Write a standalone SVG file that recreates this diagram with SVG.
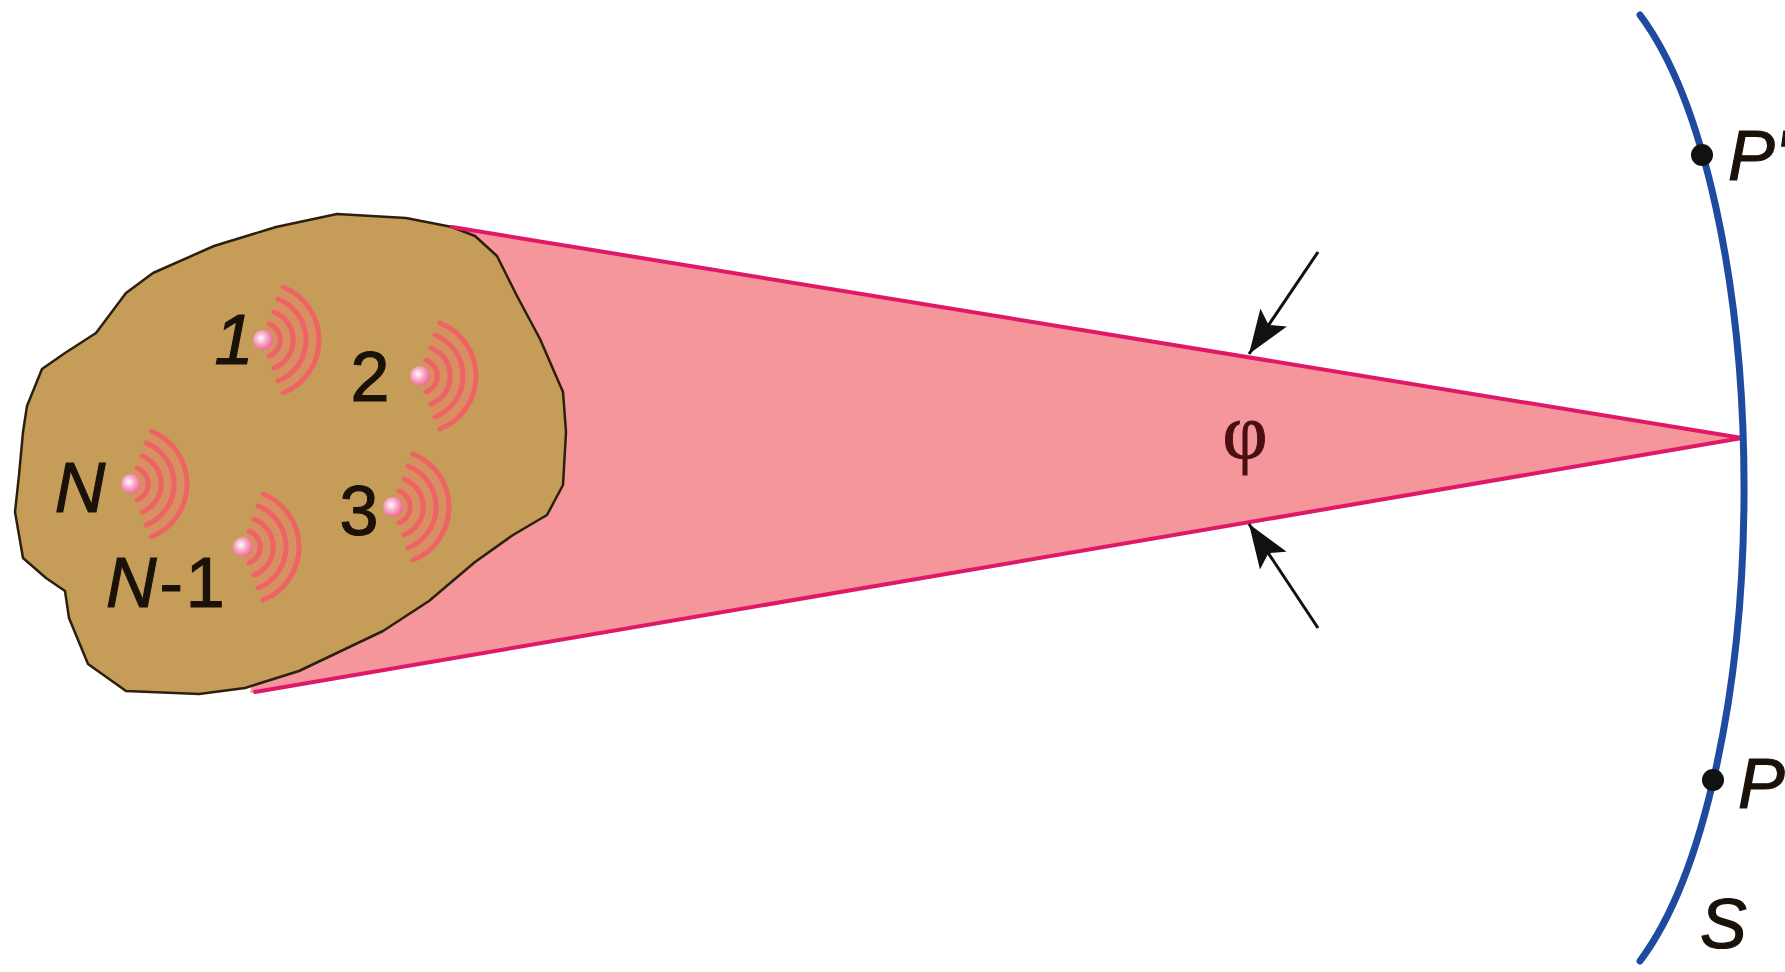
<svg xmlns="http://www.w3.org/2000/svg" xmlns:xlink="http://www.w3.org/1999/xlink" width="1785" height="972" viewBox="0 0 1785 972">
<style>
.lbl{font-family:"Liberation Sans",Arial,sans-serif;font-size:70px;fill:#1a1208;stroke:#1a1208;stroke-width:1.2}
.it{font-style:italic}
.edge{stroke:#E0186A;stroke-width:4;fill:none;stroke-linecap:round}
.wave{fill:none;stroke:#EE6464;stroke-width:5;stroke-linecap:round}
.ptr{stroke:#111;stroke-width:3;fill:none}
</style>
<defs>
<marker id="ah" viewBox="0 0 44 32" refX="44" refY="16" markerWidth="44" markerHeight="32" markerUnits="userSpaceOnUse" orient="auto">
<path d="M0,0 L44,16 L0,32 L9,16 Z" fill="#111"/>
</marker>
<radialGradient id="dotg" cx="0.4" cy="0.4" r="0.6">
<stop offset="0" stop-color="#ffffff"/>
<stop offset="0.5" stop-color="#F8A8C8"/>
<stop offset="1" stop-color="#EE6A96"/>
</radialGradient>
<g id="src">
<path d="M0,0 L20,-53 A57,57 0 0 1 20,53 Z" fill="#EE8070" opacity="0.45"/>
<path class="wave" d="M6,-16 A17,17 0 0 1 6,16"/>
<path class="wave" d="M11,-28 A30,30 0 0 1 11,28"/>
<path class="wave" d="M15,-41 A44,44 0 0 1 15,41"/>
<path class="wave" d="M20,-53 A57,57 0 0 1 20,53"/>
<circle r="10" fill="url(#dotg)"/>
</g>
</defs>
<rect width="1785" height="972" fill="#ffffff"/>

<g id="wedge">
<polygon points="452,227 1742,438 250,693 300,450" fill="#F5969A"/>
</g>

<g id="body">
<polygon points="452,227 406,218 337,214 276,227 214,246 153,273 126,293 96,333 65,353 42,369 27,406 23,432 19,475 15,512 23,558 46,578 65,591 69,618 88,664 126,691 199,694 245,688 299,671 383,631 429,601 475,562 513,535 547,515 563,485 566,432 563,392 540,339 517,296 497,256 475,236" fill="#C69D58" stroke="#2b2010" stroke-width="2.5" stroke-linejoin="round"/>
</g>

<g id="connectors">
<line class="edge" x1="452" y1="227" x2="1742" y2="438"/>
<line class="edge" x1="255" y1="692" x2="1742" y2="438"/>
<line class="ptr" x1="1318" y1="252" x2="1249" y2="354" marker-end="url(#ah)"/>
<line class="ptr" x1="1318" y1="628" x2="1249" y2="524" marker-end="url(#ah)"/>
</g>

<g id="source-1"><use xlink:href="#src" x="263" y="340"/><text class="lbl it" x="234" y="364" text-anchor="middle">1</text></g>
<g id="source-2"><use xlink:href="#src" x="420" y="376"/><text class="lbl" x="370" y="401" text-anchor="middle">2</text></g>
<g id="source-3"><use xlink:href="#src" x="393" y="507"/><text class="lbl" x="359" y="535" text-anchor="middle">3</text></g>
<g id="source-N"><use xlink:href="#src" x="131" y="484"/><text class="lbl it" x="80" y="512" text-anchor="middle">N</text></g>
<g id="source-N-1"><use xlink:href="#src" x="243" y="547"/><text class="lbl" x="106" y="607" letter-spacing="3"><tspan class="it">N</tspan>-1</text></g>

<g id="angle-label">
<text x="1245" y="458" text-anchor="middle" font-family="'Liberation Serif','DejaVu Serif',serif" font-size="78" fill="#4a0f12" stroke="#4a0f12" stroke-width="1">φ</text>
</g>

<g id="surface">
<path d="M1640,15 A178,520 0 0 1 1640,961" fill="none" stroke="#1E4AA0" stroke-width="7" stroke-linecap="round"/>
<text class="lbl it" x="1700" y="948">S</text>
</g>
<g id="point-P-prime">
<circle cx="1702" cy="155" r="11" fill="#111"/>
<text class="lbl it" x="1728" y="180">P'</text>
</g>
<g id="point-P">
<circle cx="1713" cy="780" r="11" fill="#111"/>
<text class="lbl it" x="1738" y="808">P</text>
</g>
</svg>
